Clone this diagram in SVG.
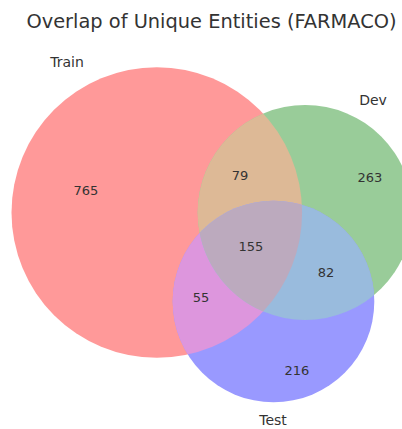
<svg xmlns="http://www.w3.org/2000/svg" width="402" height="429" viewBox="0 0 402 429">
<style>
.t{font-family:"DejaVu Sans",sans-serif;fill:#333;text-anchor:middle}
.title{font-size:19.4px}
.lab{font-size:14px}
.num{font-size:13px}
</style>
<defs>
<circle id="cTrain" cx="156.8" cy="212.5" r="145.3"/>
<circle id="cDev" cx="305.2" cy="212.5" r="107.5"/>
<circle id="cTest" cx="273.5" cy="301.5" r="100.8"/>
<clipPath id="clipTrain"><use href="#cTrain"/></clipPath>
<clipPath id="clipDev"><use href="#cDev"/></clipPath>
<clipPath id="clipTrainDev" clip-path="url(#clipTrain)"><use href="#cDev"/></clipPath>
</defs>
<rect width="402" height="429" fill="#fff"/>
<text class="t title" x="211.5" y="28">Overlap of Unique Entities (FARMACO)</text>
<g id="train">
<use href="#cTrain" fill="#ff9999"/>
<text class="t lab" x="67" y="67">Train</text>
<text class="t num" x="86" y="195">765</text>
</g>
<g id="dev">
<use href="#cDev" fill="#99cc99"/>
<text class="t lab" x="373" y="105">Dev</text>
</g>
<g id="test">
<use href="#cTest" fill="#9999ff"/>
<text class="t lab" x="273" y="424.5">Test</text>
</g>
<g id="overlaps">
<use href="#cDev" fill="#ddb996" clip-path="url(#clipTrain)"/>
<use href="#cTest" fill="#dd96dd" clip-path="url(#clipTrain)"/>
<use href="#cTest" fill="#99bbdd" clip-path="url(#clipDev)"/>
<use href="#cTest" fill="#bcaabe" clip-path="url(#clipTrainDev)"/>
</g>
<g id="counts">
<text class="t num" x="370" y="182">263</text>
<text class="t num" x="240" y="180">79</text>
<text class="t num" x="251" y="251">155</text>
<text class="t num" x="326" y="277">82</text>
<text class="t num" x="201" y="302">55</text>
<text class="t num" x="297" y="375">216</text>
</g>
<g id="connectors"></g>
</svg>
